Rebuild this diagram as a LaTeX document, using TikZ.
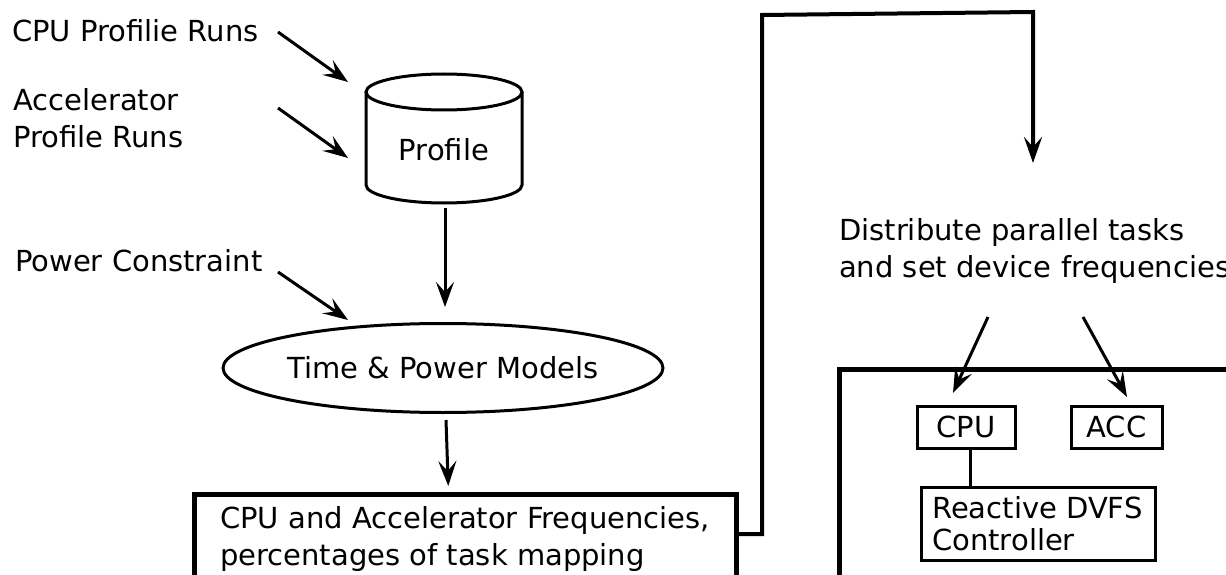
\documentclass[tikz,border=0pt]{standalone}
\usepackage{fontspec}
\setmainfont{DejaVu Sans}
\usetikzlibrary{arrows.meta,shapes.geometric,calc}
\begin{document}
\begin{tikzpicture}[x=1pt,y=-1pt,
  every node/.style={font=\fontsize{29}{36.5}\selectfont, inner sep=0pt},
  label/.style={anchor=base west, align=left},
  conn/.style={line width=3pt, -{Stealth[length=25pt,width=18pt,inset=10pt]}},
  route/.style={line width=4pt, line join=miter},
  outline/.style={draw, line width=3pt},
  heavybox/.style={draw, line width=4.5pt},
]
\useasboundingbox (0,0) rectangle (1226,575);
\clip (0,0) rectangle (1226,575);

% inputs on the left (multi-line labels are placed by their last baseline)
\node[label] (cpuruns) at (12,42) {CPU Profilie Runs};
\node[label] (accruns) at (13,147) {Accelerator\\Profile Runs};
\node[label] (powerc)  at (15,271) {Power Constraint};

% profile database (cylinder)
\coordinate (cyltop) at (444,92);
\coordinate (cylbot) at (444,185);
\draw[line width=3pt] (cyltop) ellipse [x radius=78, y radius=18];
\draw[line width=3pt] ([xshift=-78pt]cyltop) -- ([xshift=-78pt]cylbot)
  arc[start angle=180, end angle=0, x radius=78, y radius=18]
  -- ([xshift=78pt]cyltop);
\node (profile) at (444,150) {Profile};

% models and resulting configuration
\node[ellipse, outline, minimum width=427pt, minimum height=89pt] (model) at (443,368) {Time \& Power Models};
\node[heavybox, anchor=north west, minimum width=542pt, minimum height=140pt] (freq) at (192,492) {};
\node[label] (freqtxt) at (220,565) {CPU and Accelerator Frequencies,\\percentages of task mapping};

% runtime side
\node[label] (dist) at (839,277) {Distribute parallel tasks\\and set device frequencies};
\node[heavybox, anchor=north west, minimum width=480pt, minimum height=300pt] (board) at (837,367) {};
\node[outline, minimum width=98pt, minimum height=42pt] (cpu) at (966,427) {CPU};
\node[outline, minimum width=91pt, minimum height=42pt] (acc) at (1116.5,427) {ACC};
\node[outline, minimum width=234pt, minimum height=73pt] (ctrl) at (1038,523.5) {};
\node[label, font=\fontsize{29}{31.5}\selectfont] (ctrltxt) at (932,550) {Reactive DVFS\\Controller};

% ends of the arrows
\coordinate (cpuout) at (278,32);
\coordinate (accout) at (278,108);
\coordinate (powout) at (278,272);
\coordinate (cylinA) at (348,82);
\coordinate (cylinB) at (348,158);
\coordinate (modelin) at (348,320);
\coordinate (bendA) at (762,15);
\coordinate (bendB) at (1033,12);
\coordinate (distin) at (1033,163);
\coordinate (splitL) at (988,317);
\coordinate (splitR) at (1083,317);
\coordinate (cpuin) at (953,393);
\coordinate (accin) at (1127,397);

% connectors
\draw[conn] (cpuout) -- (cylinA);
\draw[conn] (accout) -- (cylinB);
\draw[conn] (powout) -- (modelin);
\draw[conn] ($(cylbot)+(1,23)$) -- ($(model.north)+(2,-15)$);
\draw[conn] ($(model.south)+(3,6)$) -- ($(freq.north)+(-17,-6)$);
\draw[route, -{Stealth[length=26pt,width=18pt,inset=10pt]}]
  ($(freq.north east)+(0,42)$) -- ($(bendA |- freq.north east)+(0,42)$)
  -- (bendA) -- (bendB) -- (distin);
\draw[conn] (splitL) -- (cpuin);
\draw[conn] (splitR) -- (accin);
\draw[line width=3pt] ([xshift=4pt]cpu.south) -- ([xshift=4pt]cpu.south |- ctrl.north);
\end{tikzpicture}
\end{document}
